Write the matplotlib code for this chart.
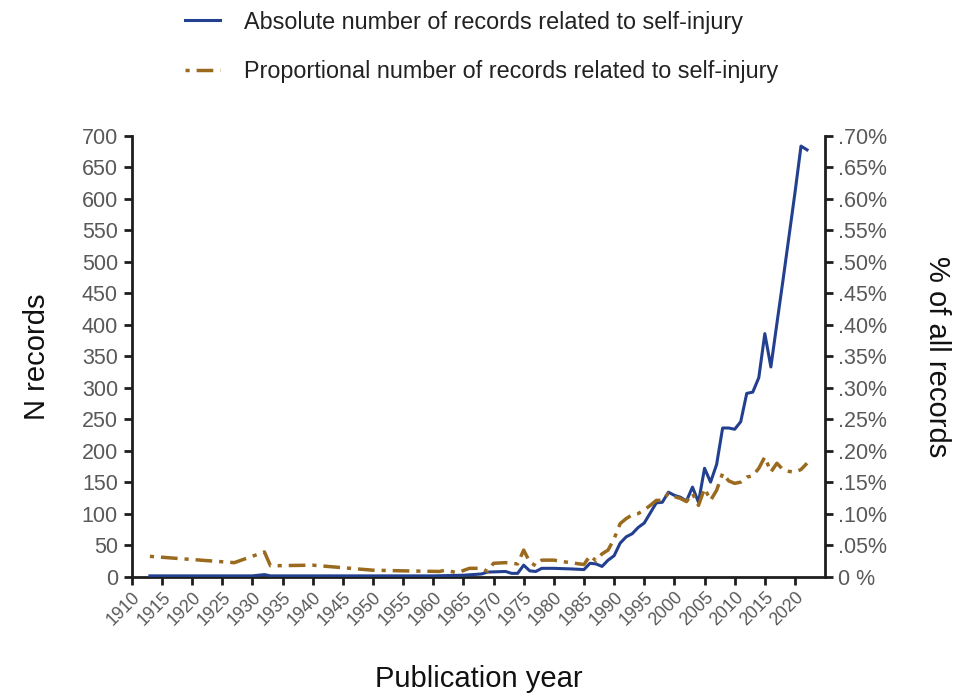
import matplotlib
matplotlib.use("Agg")
import matplotlib.pyplot as plt
from matplotlib.ticker import FuncFormatter
from matplotlib.transforms import ScaledTranslation

plt.rcParams['font.family'] = ['Liberation Sans', 'DejaVu Sans']
plt.rcParams['lines.scale_dashes'] = False

# Absolute number of self-injury records per publication year
abs_years = [1913, 1930, 1932, 1933, 1960, 1965, 1968, 1969, 1972, 1973, 1974,
             1975, 1976, 1977, 1978, 1980, 1983, 1985, 1986, 1987, 1988, 1989,
             1990, 1991, 1992, 1993, 1994, 1995, 1996, 1997, 1998, 1999, 2000,
             2001, 2002, 2003, 2004, 2005, 2006, 2007, 2008, 2009, 2010, 2011,
             2012, 2013, 2014, 2015, 2016, 2017, 2018, 2019, 2020, 2021, 2022]
abs_counts = [1, 1, 3, 1, 1, 2, 4, 7, 8, 5, 5,
              18, 9, 8, 13, 13, 12, 11, 21, 20, 16, 26,
              33, 53, 63, 68, 78, 85, 101, 117, 118, 134, 129,
              126, 120, 142, 118, 172, 150, 178, 236, 236, 234, 246,
              291, 293, 316, 386, 333, 402, 470, 540, 610, 684, 678]

# Share of all records (in %)
prop_years = [1913, 1927, 1932, 1933, 1940, 1945, 1950, 1955, 1961, 1962,
              1964, 1966, 1968, 1969, 1970, 1972, 1974, 1975, 1976, 1977,
              1978, 1980, 1982, 1985, 1986, 1987, 1988, 1989, 1990, 1991,
              1992, 1993, 1994, 1995, 1996, 1997, 1998, 1999, 2000, 2001,
              2002, 2003, 2004, 2005, 2006, 2007, 2008, 2009, 2010, 2011,
              2012, 2013, 2014, 2015, 2016, 2017, 2018, 2019, 2020, 2021, 2022]
prop_pct = [0.032, 0.022, 0.039, 0.017, 0.018, 0.014, 0.010, 0.009, 0.008, 0.010,
            0.006, 0.013, 0.013, 0.008, 0.021, 0.022, 0.020, 0.042, 0.023, 0.017,
            0.026, 0.026, 0.023, 0.019, 0.033, 0.025, 0.036, 0.042, 0.060, 0.084,
            0.092, 0.098, 0.100, 0.106, 0.113, 0.121, 0.121, 0.132, 0.127, 0.124,
            0.119, 0.132, 0.113, 0.140, 0.121, 0.137, 0.164, 0.152, 0.148, 0.150,
            0.158, 0.160, 0.172, 0.190, 0.166, 0.180, 0.170, 0.167, 0.166, 0.170, 0.180]

x_ticks = list(range(1910, 2021, 5))
left_ticks = list(range(0, 701, 50))
right_ticks = [i * 0.05 for i in range(15)]

blue = '#22408f'
brown = '#9a6a1f'
spine_col = '#1e1e1e'
tick_col = '#595959'

fig = plt.figure(figsize=(9.55, 6.95), dpi=100)
ax = fig.add_axes([0.138, 0.1705, 0.726, 0.6338])
ax2 = ax.twinx()

l1, = ax.plot(abs_years, abs_counts, color=blue, lw=2.2, zorder=3,
              label='Absolute number of records related to self-injury')
l2, = ax2.plot(prop_years, prop_pct, color=brown, lw=2.5,
               linestyle=(17, (12, 5, 3, 5)),
               label='Proportional number of records related to self-injury')

ax.set_xlim(1910, 2025)
ax.set_ylim(0, 700)
ax2.set_ylim(0, 0.70)
ax.set_xticks(x_ticks)
ax.set_xticklabels([str(y) for y in x_ticks], rotation=45, ha='right',
                   rotation_mode='anchor')
shift = ScaledTranslation(5 / 72, 0, fig.dpi_scale_trans)
for lab in ax.get_xticklabels():
    lab.set_transform(lab.get_transform() + shift)
ax.set_yticks(left_ticks)
ax2.set_yticks(right_ticks)


def pct_fmt(v, pos):
    if abs(v) < 1e-9:
        return '0 %'
    return ('%.2f%%' % v)[1:]


ax2.yaxis.set_major_formatter(FuncFormatter(pct_fmt))

for a in (ax, ax2):
    a.spines['top'].set_visible(False)
    for s in ('left', 'right', 'bottom'):
        a.spines[s].set_color(spine_col)
        a.spines[s].set_linewidth(2.0)
    a.tick_params(axis='both', colors=spine_col, width=2.0, length=6,
                  labelcolor=tick_col)
ax.spines['right'].set_visible(False)
ax2.spines['left'].set_visible(False)
ax2.spines['bottom'].set_visible(False)

ax.tick_params(axis='y', labelsize=15.5, pad=4)
ax.tick_params(axis='x', labelsize=12.8, pad=3)
ax2.tick_params(axis='y', labelsize=15.5, pad=3)

ax.set_ylabel('N records', fontsize=21, color='#111111', labelpad=22)
ax2.set_ylabel('% of all records', fontsize=21, color='#111111',
               rotation=270, labelpad=46)
ax.set_xlabel('Publication year', fontsize=21, color='#111111', labelpad=26)

fig.legend(handles=[l1, l2], loc='upper left', bbox_to_anchor=(0.172, 1.015),
           frameon=False, fontsize=16.8, handlelength=1.5, handletextpad=1.0,
           labelspacing=1.13, labelcolor='#222222')

fig.savefig('out.png', dpi=100)
